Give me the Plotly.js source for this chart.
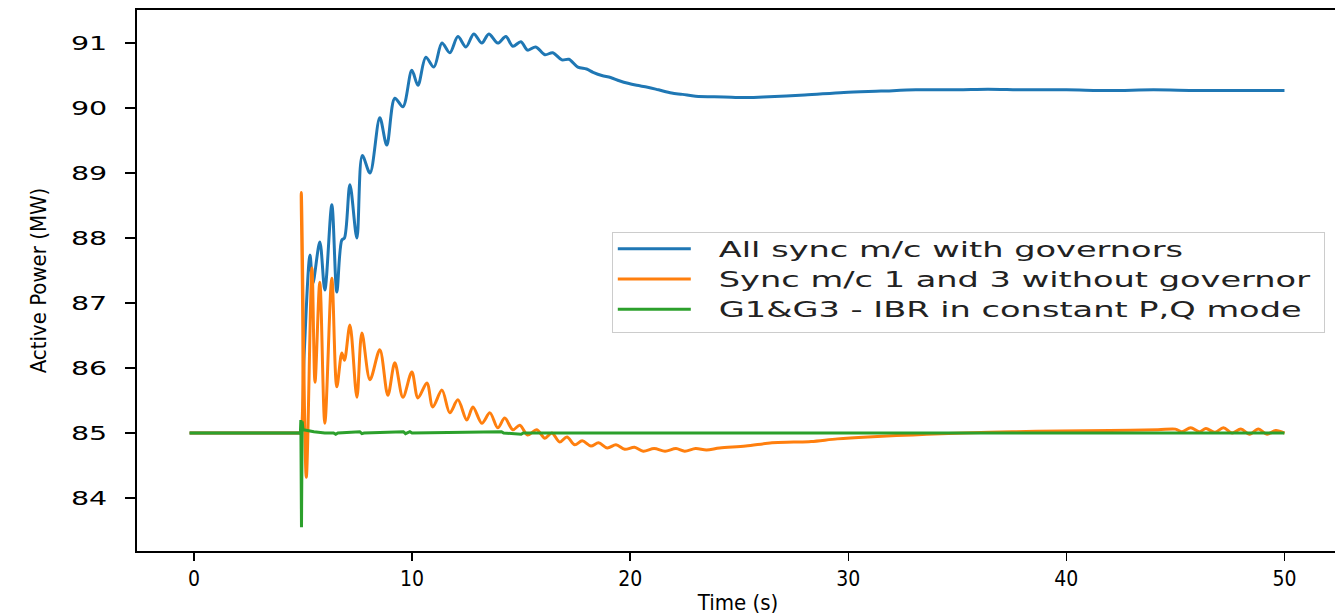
<!DOCTYPE html>
<html>
<head>
<meta charset="utf-8">
<script src="https://cdn.plot.ly/plotly-3.0.1.min.js"></script>
<style>
html,body{margin:0;padding:0;overflow:hidden;background:#fff;}
#chart{width:1341px;height:615px;}
</style>
</head>
<body>
<div id="chart"></div>
<script>
// Series names
const seriesNames = [
  "All sync m/c with governors",
  "Sync m/c 1 and 3 without governor",
  "G1&G3 - IBR in constant P,Q mode"
];

// Tick values / labels
const xTickVals = [0, 10, 20, 30, 40, 50];
const xTickText = ["0", "10", "20", "30", "40", "50"];
const yTickVals = [84, 85, 86, 87, 88, 89, 90, 91];

// Blue: all sync machines with governors (time s, active power MW)
const tBlue = [-0.2, 2.5, 4.8, 4.9, 5.05, 5.32, 5.45, 5.77, 6.0, 6.32, 6.55, 6.78, 6.9, 7.15, 7.47, 7.72, 8.07, 8.52, 8.84, 9.21, 9.58, 9.99, 10.27, 10.63, 11.0, 11.37, 11.73, 12.1, 12.47, 12.83, 13.2, 13.52, 13.93, 14.3, 14.62, 14.99, 15.3, 15.67, 16.09, 16.45, 16.87, 17.19, 17.6, 18.0, 18.3, 18.7, 19.1, 19.5, 19.9, 20.3, 20.8, 21.3, 21.9, 22.4, 23.0, 24.3, 25.2, 26.1, 28.0, 29.8, 31.5, 33.1, 35.0, 36.4, 38.0, 40.0, 42.0, 44.0, 46.0, 48.0, 50.0];
const pBlue = [85.0, 85.0, 85.0, 85.0, 86.2, 87.74, 87.3, 87.94, 87.2, 88.51, 87.17, 87.97, 88.0, 88.82, 88.0, 89.27, 89.0, 89.85, 89.43, 90.15, 90.02, 90.58, 90.35, 90.78, 90.63, 91.0, 90.85, 91.1, 90.94, 91.14, 91.0, 91.14, 91.0, 91.1, 90.95, 91.02, 90.89, 90.94, 90.82, 90.85, 90.74, 90.75, 90.63, 90.6, 90.55, 90.5, 90.47, 90.42, 90.38, 90.35, 90.32, 90.28, 90.23, 90.21, 90.18, 90.17, 90.16, 90.17, 90.2, 90.24, 90.26, 90.28, 90.28, 90.29, 90.28, 90.28, 90.27, 90.28, 90.27, 90.27, 90.27];

// Orange: sync machines 1 and 3 without governor
const tOrange = [-0.2, 2.5, 4.8, 4.88, 4.92, 5.15, 5.41, 5.55, 5.77, 6.0, 6.32, 6.55, 6.78, 6.9, 7.15, 7.47, 7.7, 8.07, 8.52, 8.89, 9.21, 9.58, 9.99, 10.27, 10.68, 10.95, 11.37, 11.73, 12.1, 12.51, 12.79, 13.2, 13.57, 13.93, 14.25, 14.62, 14.94, 15.3, 15.72, 16.09, 16.41, 16.77, 17.1, 17.46, 17.8, 18.2, 18.55, 18.95, 19.35, 19.75, 20.2, 20.6, 21.1, 21.6, 22.1, 22.5, 23.0, 23.5, 24.1, 25.3, 26.5, 27.5, 28.3, 29.5, 30.9, 32.2, 33.6, 35.3, 37.5, 39.7, 42.0, 44.2, 45.0, 45.3, 45.7, 46.1, 46.4, 46.8, 47.2, 47.6, 48.0, 48.4, 48.8, 49.2, 49.6, 50.0];
const pOrange = [85.0, 85.0, 85.0, 85.0, 88.7, 84.32, 87.54, 85.78, 87.32, 85.15, 87.38, 85.71, 86.23, 86.12, 86.66, 85.55, 86.54, 85.82, 86.28, 85.58, 86.08, 85.55, 85.94, 85.54, 85.77, 85.4, 85.66, 85.31, 85.51, 85.2, 85.4, 85.15, 85.31, 85.08, 85.23, 85.05, 85.12, 84.97, 85.05, 84.92, 85.0, 84.86, 84.94, 84.82, 84.88, 84.8, 84.85, 84.77, 84.82, 84.75, 84.78, 84.72, 84.76, 84.72, 84.76, 84.72, 84.76, 84.74, 84.77, 84.8, 84.85, 84.86, 84.87, 84.91, 84.94, 84.96, 84.98, 85.0, 85.02, 85.03, 85.04, 85.05, 85.06, 85.02, 85.08, 85.02, 85.07, 85.01, 85.08, 85.0, 85.06, 84.98, 85.06, 84.98, 85.04, 85.0];

// Green: G1&G3 as IBR in constant P,Q mode
const tGreen = [-0.2, 4.88, 4.9, 4.93, 4.96, 5.0, 5.2, 5.5, 6.0, 6.4, 6.5, 6.6, 7.6, 7.7, 7.8, 9.6, 9.7, 9.9, 10.0, 14.1, 14.2, 15.0, 15.1, 20.0, 25.0, 30.0, 35.0, 40.0, 45.0, 50.0];
const pGreen = [85.0, 85.0, 85.2, 83.55, 85.18, 85.05, 85.04, 85.02, 85.0, 85.0, 84.98, 85.0, 85.02, 84.99, 85.0, 85.02, 84.99, 85.02, 85.0, 85.02, 85.0, 84.98, 85.0, 85.0, 85.0, 85.0, 85.0, 85.0, 85.0, 85.0];

// ---- styles ----
const colors = ["#1f77b4", "#ff7f0e", "#2ca02c"];
const shapes = ["spline", "spline", "linear"];
const LEGEND_STRETCH = 1.6;    // reference legend text is horizontally stretched
const LEGEND_TEXT_X = 106;
const LEGEND_LINE_LEN = 73;
const LEGEND_ROW_SHIFT = -4.5;
const LEGEND_BOX_W = 712;
const LEGEND_BOX_H = 100;
const YTICK_STRETCH = 1.5;

const traces = [
  {x: tBlue, y: pBlue, name: seriesNames[0]},
  {x: tOrange, y: pOrange, name: seriesNames[1]},
  {x: tGreen, y: pGreen, name: seriesNames[2]}
].map((t, i) => Object.assign(t, {
  type: "scatter", mode: "lines",
  line: {color: colors[i], width: 3, shape: shapes[i], smoothing: 0.9}
}));

const layout = {
  width: 1341, height: 615,
  margin: {l: 137, r: 2, t: 10, b: 64},
  paper_bgcolor: "#ffffff", plot_bgcolor: "#ffffff",
  font: {family: "DejaVu Sans", color: "#000"},
  showlegend: true,
  legend: {
    x: 0.395, y: 0.5896, xanchor: "left", yanchor: "top",
    bgcolor: "rgba(255,255,255,0.85)", bordercolor: "#cccccc", borderwidth: 1,
    font: {family: "DejaVu Sans", size: 21, color: "#222"},
    itemwidth: 72,
    tracegroupgap: 0
  },
  xaxis: {
    range: [-2.612, 52.5],
    tickvals: xTickVals,
    ticktext: xTickText,
    showgrid: false, zeroline: false,
    showline: true, mirror: true, linecolor: "#000", linewidth: 2,
    ticks: "outside", ticklen: 8, tickwidth: 1.5, tickcolor: "#000",
    tickfont: {family: "DejaVu Sans Condensed, DejaVu Sans", size: 21},
    title: {text: "Time (s)", font: {family: "DejaVu Sans Condensed, DejaVu Sans", size: 22}, standoff: 4}
  },
  yaxis: {
    range: [83.185, 91.508],
    tickvals: yTickVals,
    showgrid: false, zeroline: false,
    showline: true, mirror: true, linecolor: "#000", linewidth: 2,
    ticks: "outside", ticklen: 10, tickwidth: 1.5, tickcolor: "#000",
    ticklabelstandoff: 14,
    tickfont: {family: "DejaVu Sans", size: 19},
    title: {text: "Active Power (MW)", font: {family: "DejaVu Sans Condensed, DejaVu Sans", size: 22}, standoff: 30}
  }
};

const gd = document.getElementById("chart");
Plotly.newPlot(gd, traces, layout, {displayModeBar: false, staticPlot: true}).then(function () {
  const legend = gd.querySelector("g.legend");
  if (legend) {
    // widen legend texts to match the stretched reference lettering
    legend.querySelectorAll("text.legendtext").forEach(function (t) {
      const w = t.getComputedTextLength() * LEGEND_STRETCH;
      t.setAttribute("textLength", w.toFixed(1));
      t.setAttribute("lengthAdjust", "spacingAndGlyphs");
      t.setAttribute("x", LEGEND_TEXT_X);
    });
    legend.querySelectorAll("g.legendlines path").forEach(function (p) {
      p.setAttribute("d", "M5,0h" + LEGEND_LINE_LEN);
    });
    legend.querySelectorAll("g.traces").forEach(function (g) {
      const tr = g.getAttribute("transform") || "";
      const m = tr.match(/translate\(\s*([-\d.e]+)[ ,]+([-\d.e]+)\s*\)/);
      if (m) g.setAttribute("transform", "translate(" + m[1] + "," + (parseFloat(m[2]) + LEGEND_ROW_SHIFT) + ")");
    });
    legend.querySelectorAll("rect.bg").forEach(function (r) {
      r.setAttribute("width", LEGEND_BOX_W);
      r.setAttribute("height", LEGEND_BOX_H);
    });
    legend.querySelectorAll("rect.legendtoggle").forEach(function (r) {
      r.setAttribute("width", LEGEND_BOX_W - 6);
    });
    document.querySelectorAll('clipPath[id^="legend"] rect').forEach(function (r) {
      r.setAttribute("width", LEGEND_BOX_W - 1);
      r.setAttribute("height", LEGEND_BOX_H - 1);
    });
  }
  // y tick labels are wider in the reference
  gd.querySelectorAll("g.ytick text").forEach(function (t) {
    const w = t.getComputedTextLength() * YTICK_STRETCH;
    t.setAttribute("textLength", w.toFixed(1));
    t.setAttribute("lengthAdjust", "spacingAndGlyphs");
  });
});
</script>
</body>
</html>
